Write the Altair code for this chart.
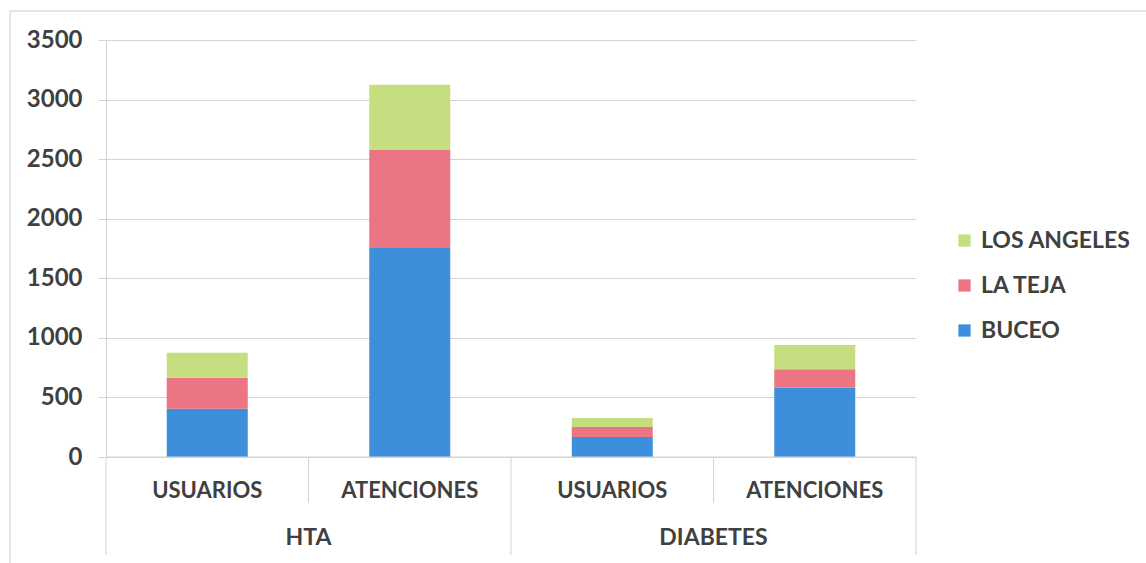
import altair as alt
import pandas as pd

groups = ["HTA", "HTA", "DIABETES", "DIABETES"]
subs = ["USUARIOS", "ATENCIONES", "USUARIOS", "ATENCIONES"]
buceo = [405, 1760, 168, 583]
la_teja = [260, 820, 84, 154]
los_angeles = [210, 545, 76, 202]
series = ["BUCEO", "LA TEJA", "LOS ANGELES"]
colors = ["#3d8fdc", "#ec7584", "#c5df80"]
y_ticks = [0, 500, 1000, 1500, 2000, 2500, 3000, 3500]

keys = [f"{g}|{s}" for g, s in zip(groups, subs)]
rows = []
for i, k in enumerate(keys):
    for j, (name, vals) in enumerate(zip(series, [buceo, la_teja, los_angeles])):
        rows.append({"key": k, "group": groups[i], "sub": subs[i], "serie": name, "value": vals[i], "ord": j})
df = pd.DataFrame(rows)
cat_df = pd.DataFrame({"key": keys, "group": groups, "sub": subs})

n = len(keys)
group_names = ["HTA", "DIABETES"]
group_center = [float(groups.index(gn) + groups.count(gn) / 2) for gn in group_names]
outer_idx = [0.0] + [float(groups.index(gn) + groups.count(gn)) for gn in group_names]
inner_idx = [float(i) for i in range(1, n) if i not in outer_idx]

W, H = 810, 417
FONT = "Lato"
TXT = "#404040"
GRID = "#d4d4d4"

xscale = alt.Scale(domain=keys, paddingInner=0.6, paddingOuter=0.3)
iscale = alt.Scale(domain=[0, n], range=[0, W], nice=False, zero=False)

bars = alt.Chart(df).mark_bar().encode(
    x=alt.X("key:N", scale=xscale, axis=None),
    y=alt.Y("value:Q", stack="zero", scale=alt.Scale(domain=[0, 3500], nice=False),
            axis=alt.Axis(values=y_ticks, format="d", title=None, labelFont=FONT, labelFontSize=24,
                          labelFontWeight="bold", labelColor=TXT, labelPadding=16,
                          gridColor=GRID, domainColor=GRID, tickColor=GRID, tickSize=8)),
    color=alt.Color("serie:N", scale=alt.Scale(domain=series[::-1], range=colors[::-1]),
                    legend=alt.Legend(title=None, orient="none", legendX=847, legendY=189,
                                      labelFont=FONT, labelFontSize=23, labelFontWeight="bold",
                                      labelColor=TXT, symbolType="square", symbolSize=150,
                                      symbolStrokeWidth=0, rowPadding=21, labelOffset=5)),
    order=alt.Order("ord:Q"),
)

baseline = alt.Chart(pd.DataFrame({"v": [0]})).mark_rule(color=GRID, strokeWidth=1).encode(
    y=alt.Y("v:Q", scale=alt.Scale(domain=[0, 3500])),
    x=alt.value(0), x2=alt.value(W),
)

sub_text = alt.Chart(cat_df).mark_text(font=FONT, fontSize=22, fontWeight="bold", color=TXT).encode(
    x=alt.X("key:N", scale=xscale, axis=None), y=alt.value(H + 34), text="sub:N")

grp_text = alt.Chart(pd.DataFrame({"g": group_names, "p": group_center})).mark_text(
    font=FONT, fontSize=23, fontWeight="bold", color=TXT).encode(
    x=alt.X("p:Q", scale=iscale, axis=None), y=alt.value(H + 81), text="g:N")

inner_div = alt.Chart(pd.DataFrame({"p": inner_idx})).mark_rule(color=GRID).encode(
    x=alt.X("p:Q", scale=iscale, axis=None), y=alt.value(H), y2=alt.value(H + 46))

outer_div = alt.Chart(pd.DataFrame({"p": outer_idx})).mark_rule(color=GRID).encode(
    x=alt.X("p:Q", scale=iscale, axis=None), y=alt.value(H), y2=alt.value(H + 98))

frame = alt.Chart(pd.DataFrame({"a": [1]})).mark_rect(fill=None, stroke="#dedede", strokeWidth=1.5).encode(
    x=alt.value(-96), x2=alt.value(1140), y=alt.value(-29), y2=alt.value(H + 110))

chart = alt.layer(frame, bars, baseline, sub_text, grp_text, inner_div, outer_div).resolve_scale(
    x="independent"
).properties(
    width=W, height=H,
    autosize=alt.AutoSizeParams(type="none"),
    padding={"left": 106, "top": 40, "right": 230, "bottom": 106},
    background="white",
).configure_view(stroke=None)

chart.save("out.html", embed_options={"renderer": "svg", "actions": False})
